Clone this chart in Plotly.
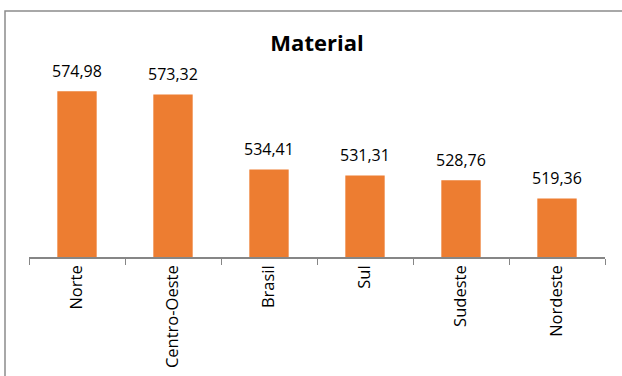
import plotly.graph_objects as go

categories = ["Norte", "Centro-Oeste", "Brasil", "Sul", "Sudeste", "Nordeste"]
values = [574.98, 573.32, 534.41, 531.31, 528.76, 519.36]
labels = ["574,98", "573,32", "534,41", "531,31", "528,76", "519,36"]

W, H = 622, 376
L, R, T, B = 29, 17, 43, 119
pw = W - L - R
ph = H - T - B

fig = go.Figure(go.Bar(
    x=categories, y=values,
    marker=dict(color="#ED7D31", line=dict(width=0)),
    cliponaxis=False,
))

for c, v, t in zip(categories, values, labels):
    fig.add_annotation(x=c, y=v, text=t, showarrow=False, yanchor="bottom", yshift=7,
                       font=dict(family="Open Sans", size=16, color="#000000"))

def px_x(p):
    return (p - L) / pw

def px_y(p):
    return (H - B - p) / ph

fig.update_layout(
    width=W, height=H,
    margin=dict(l=L, r=R, t=T, b=B, autoexpand=False),
    paper_bgcolor="white", plot_bgcolor="white",
    showlegend=False,
    bargap=0.59,
    title=dict(text="<b>Material</b>", x=317 / W, xanchor="center", xref="container",
               y=1 - 43 / H, yanchor="middle", yref="container",
               font=dict(family="Open Sans", size=22, color="#000000")),
    xaxis=dict(showline=True, linecolor="#868686", linewidth=1.5, automargin=False,
               ticks="outside", tickson="boundaries", ticklen=6, tickcolor="#868686",
               tickangle=-90, tickfont=dict(family="Open Sans", size=16.5, color="#000000"),
               showgrid=False),
    yaxis=dict(range=[489, 600], visible=False, showgrid=False, automargin=False),
    shapes=[dict(type="rect", xref="paper", yref="paper",
                 x0=px_x(5), x1=px_x(640), y0=px_y(400), y1=px_y(11),
                 line=dict(color="#8c8c8c", width=1.5), fillcolor="rgba(0,0,0,0)", layer="below")],
)

fig.write_html("out.html", config={"displayModeBar": False},
               post_script="document.body.style.margin='0';document.body.style.overflow='hidden';")
